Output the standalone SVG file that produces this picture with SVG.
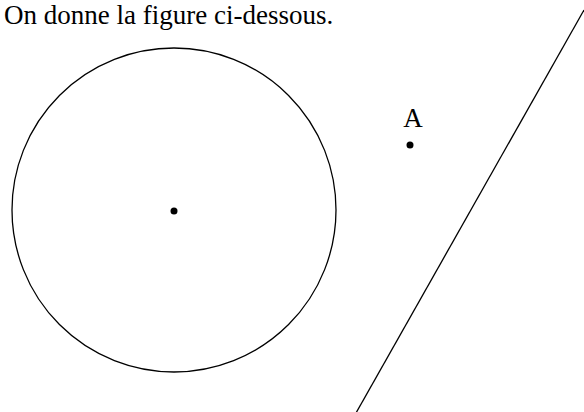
<svg xmlns="http://www.w3.org/2000/svg" width="584" height="412" viewBox="0 0 584 412">
<style>
text{font-family:"Liberation Serif","Times New Roman",serif;fill:#000;font-size:27px}
.s{fill:none;stroke:#000;stroke-width:1.3}
</style>
<rect width="584" height="412" fill="#fff"/>
<text x="4" y="24">On donne la figure ci-dessous.</text>
<g id="circle">
<circle class="s" cx="174" cy="210" r="162"/>
<circle cx="174" cy="211" r="3.5"/>
</g>
<g id="pointA">
<text x="413" y="127" text-anchor="middle">A</text>
<circle cx="410" cy="145" r="3.5"/>
</g>
<g id="line">
<line class="s" x1="584" y1="10" x2="356" y2="413"/>
</g>
</svg>
